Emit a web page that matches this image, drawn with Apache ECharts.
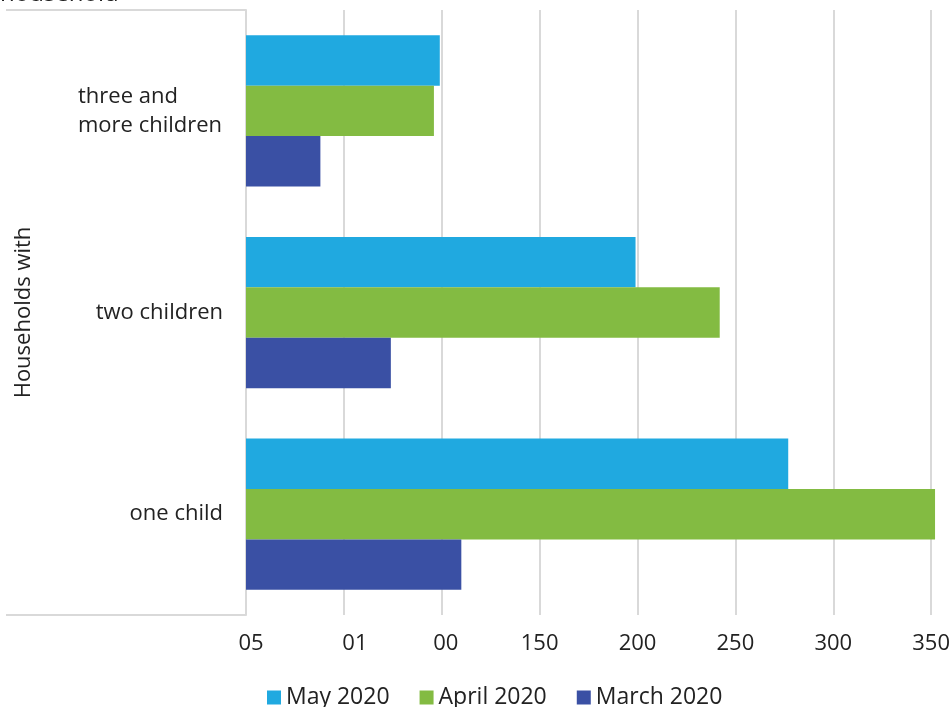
<!DOCTYPE html>
<html>
<head>
<meta charset="utf-8">
<script src="https://cdn.jsdelivr.net/npm/echarts@6/dist/echarts.min.js"></script>
<style>html,body{margin:0;padding:0;background:#fff}#c{width:952px;height:707px}</style>
</head>
<body>
<div id="c"></div>
<script>
const categories = ['one child', 'two children', 'three and\nmore children'];
const seriesNames = ['May 2020', 'April 2020', 'March 2020'];
const may2020 = [277, 199, 99];
const april2020 = [352, 242, 96];
const march2020 = [110, 74, 38];
const tickValues = [0, 50, 100, 150, 200, 250, 300, 350, 400];
const tickLabels = ['05', '01', '00', '150', '200', '250', '300', '350', '400'];
const groupLabel = ['Households with'];
const titleText = 'household';

const FONT = '"Open Sans", sans-serif';
const labelShift = {0: 10, 50: 22, 100: 8};
const rich = {};
Object.keys(labelShift).forEach(k => {
  rich['s' + k] = {fontFamily: FONT, fontSize: 22, color: '#222', padding: [0, 0, 0, labelShift[k]]};
});
rich.l = {fontFamily: FONT, fontSize: 22, color: '#222', width: 145, align: 'left', lineHeight: 29};

const chart = echarts.init(document.getElementById('c'), null, {renderer: 'canvas'});
chart.setOption({
  animation: false,
  backgroundColor: '#fff',
  graphic: [{type: 'text', x: 0, y: -6, silent: true,
    style: {text: titleText, fontFamily: FONT, fontSize: 24, fill: '#222', verticalAlign: 'middle', align: 'left'}}],
  legend: {
    data: seriesNames, left: 267, top: 686, padding: 0,
    icon: 'rect', itemWidth: 14, itemHeight: 14, itemGap: 30,
    textStyle: {fontFamily: FONT, fontSize: 23, color: '#222'}
  },
  grid: {left: 246, top: 10, width: 783, height: 605, containLabel: false, outerBoundsMode: 'none'},
  xAxis: {
    type: 'value', min: 0, max: 400, interval: 50,
    axisLine: {show: false}, axisTick: {show: false},
    splitLine: {lineStyle: {color: '#d9d9d9', width: 2}},
    axisLabel: {fontFamily: FONT, fontSize: 22, color: '#222', margin: 18,
      formatter: function (v) {
        const t = tickLabels[tickValues.indexOf(v)];
        return labelShift[v] !== undefined ? '{s' + v + '|' + t + '}' : t;
      },
      rich: rich}
  },
  yAxis: [{
    type: 'category', data: categories, position: 'left',
    axisLine: {show: true, lineStyle: {color: '#d9d9d9', width: 2}},
    axisTick: {show: false},
    axisLabel: {fontFamily: FONT, fontSize: 22, color: '#222', margin: 23, lineHeight: 29,
      formatter: function (v) {
        if (v.indexOf('\n') >= 0) return v.split('\n').map(s => '{l|' + s + '}').join('\n');
        return v;
      },
      rich: rich
    }
  }, {
    type: 'category', data: groupLabel, position: 'left', offset: 0,
    axisLine: {show: false},
    axisTick: {show: true, length: 240, interval: 0, lineStyle: {color: '#d9d9d9', width: 2}},
    axisLabel: {show: false},
    name: groupLabel[0], nameLocation: 'middle', nameRotate: 90, nameGap: 211,
    nameTextStyle: {fontFamily: FONT, fontSize: 22, color: '#222'}
  }],
  series: [
    {name: 'May 2020', type: 'bar', data: may2020, itemStyle: {color: '#20a9e0'}, barCategoryGap: '25%', barGap: 0},
    {name: 'April 2020', type: 'bar', data: april2020, itemStyle: {color: '#83bb42'}, barCategoryGap: '25%', barGap: 0},
    {name: 'March 2020', type: 'bar', data: march2020, itemStyle: {color: '#3a50a4'}, barCategoryGap: '25%', barGap: 0}
  ]
});
</script>
</body>
</html>
